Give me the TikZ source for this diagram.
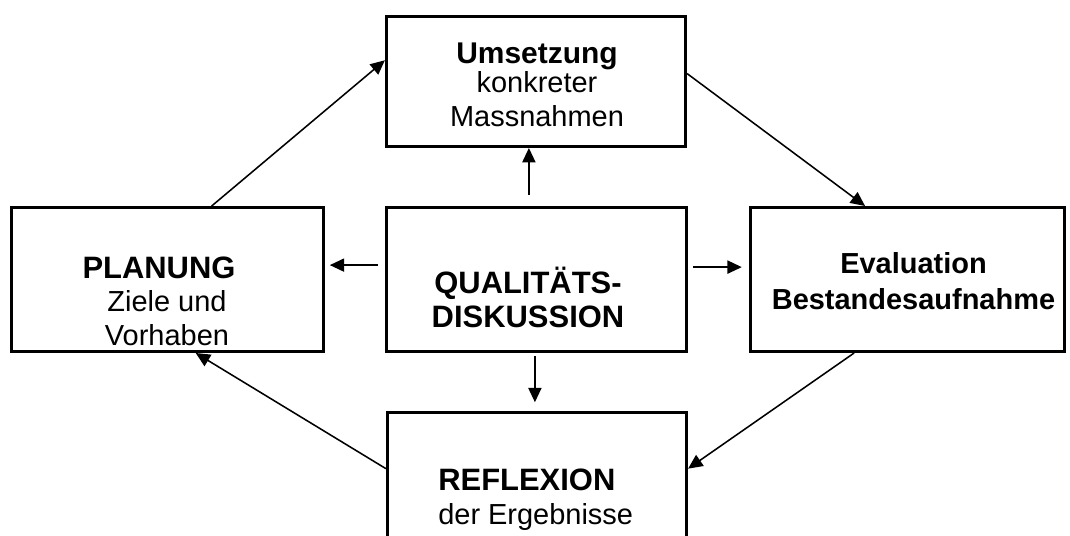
\documentclass[tikz,border=0pt]{standalone}
\usepackage{fontspec}
\setmainfont{Liberation Sans}
\usetikzlibrary{arrows.meta}
\newcommand{\tbig}[1]{{\fontsize{22}{23.8}\selectfont\bfseries #1}}

\begin{document}
\begin{tikzpicture}[x=0.025cm, y=-0.025cm,
	   box/.style={draw, line width=2.1pt, inner sep=0pt},
	   txt/.style={align=center, anchor=base, inner sep=0pt, font=\fontsize{20.6}{23.8}\selectfont},
	   arr/.style={line width=1.1pt, -{Triangle[length=0.36cm, width=0.33cm]}}]
	  \clip (0,0) rectangle (1070,535);
	  % boxes
	  \node[box, minimum width=7.48cm, minimum height=3.25cm] (um) at (536,81.5) {};
	  \node[box, minimum width=7.8cm, minimum height=3.6cm] (plan) at (167.5,279.5) {};
	  \node[box, minimum width=7.5cm, minimum height=3.6cm] (qd) at (536.5,279.5) {};
	  \node[box, minimum width=7.85cm, minimum height=3.6cm] (eval) at (907.5,279.5) {};
	  \node[box, minimum width=7.48cm, minimum height=3.6cm] (refl) at (537,484.5) {};
	  % texts (base = last line)
	  \node[txt] (umT) at (537,126) {{\fontsize{21.3}{23.8}\selectfont\bfseries Umsetzung}\\[-0.12cm] konkreter\\ Massnahmen};
	  \node[txt] (planT) at (167,345) {\tbig{PLANUNG}\hspace*{0.4cm}\\ Ziele und\\ Vorhaben};
	  \node[txt] (qdT) at (528,327) {\tbig{QUALITÄTS-}\\ \tbig{DISKUSSION}};
	  \node[txt] (evalT) at (913.5,309) {\textbf{Evaluation}\\[0.06cm] \textbf{Bestandesaufnahme}};
	  \node[txt, align=left, anchor=base west] (reflT) at (438,524) {\tbig{REFLEXION}\\ der Ergebnisse};
	  % cycle
	  \draw[arr] (plan.59.8) -- (um.172.5);
	  \draw[arr] (um.3.2) -- (eval.120.2);
	  \draw[arr] (eval.234.5) -- (refl.6);
	  \draw[arr] (refl.174.7) -- (plan.291.5);
	  % from the centre
	  \draw[arr, shorten <=0.28cm] ([xshift=-0.19cm]qd.north) -- ([xshift=-0.19cm]qd.north |- um.south);
	  \draw[arr, shorten <=0.18cm, shorten >=0.12cm] ([yshift=0.36cm]qd.west) -- ([yshift=0.36cm]qd.west -| plan.east);
	  \draw[arr, shorten <=0.12cm, shorten >=0.18cm] ([yshift=0.31cm]qd.east) -- ([yshift=0.31cm]qd.east -| eval.west);
	  \draw[arr, shorten <=0.08cm, shorten >=0.22cm] ([xshift=-0.04cm]qd.south) -- ([xshift=-0.04cm]qd.south |- refl.north);
	\end{tikzpicture}
\end{document}
